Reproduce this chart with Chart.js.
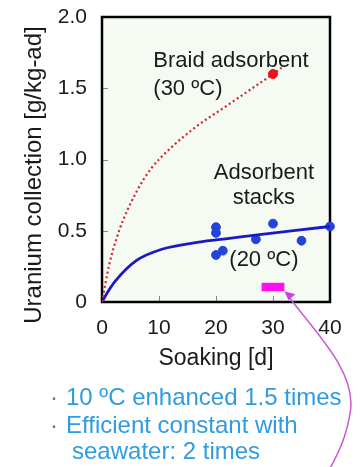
<!DOCTYPE html>
<html>
<head>
<meta charset="utf-8">
<script src="https://cdn.jsdelivr.net/npm/chart.js@4/dist/chart.umd.min.js"></script>
<style>
    html, body { margin: 0; padding: 0; background: #fff; }
    #wrap { width: 360px; height: 467px; }
</style>
</head>
<body>
<div id="wrap"><canvas id="uraniumChart" width="360" height="467"></canvas></div>
<script>
// Axis ticks
const xTicks = [0, 10, 20, 30, 40];
const yTicks = [0, 0.5, 1.0, 1.5, 2.0];

// Braid adsorbent (30 ºC) - dotted fit
const braidDays = [0, 1.2, 3, 6, 8.5, 11.5, 16.5, 22, 26, 30, 32];
const braidValues = [0, 0.25, 0.5, 0.77, 0.93, 1.06, 1.23, 1.38, 1.49, 1.6, 1.66];
const braidPointDay = [30];
const braidPointValue = [1.6];

// Adsorbent stacks (20 ºC) - fit and measurements
const stackFitDays = [0, 1, 2.4, 6, 10.5, 17, 22, 28, 34, 40];
const stackFitValues = [0, 0.07, 0.15, 0.29, 0.37, 0.42, 0.445, 0.475, 0.503, 0.53];
const stackDays = [20, 20, 20, 21.2, 27, 30, 35, 40];
const stackValues = [0.525, 0.485, 0.33, 0.36, 0.44, 0.55, 0.43, 0.53];

// Highlighted soaking range
const markDays = [28, 32];
const markValues = [0.105, 0.105];

const toXY = (xs, ys) => xs.map((d, i) => ({ x: d, y: ys[i] }));

const FONT = "'Liberation Sans', Arial, sans-serif";
Chart.defaults.font.family = FONT;
Chart.defaults.color = '#1a1a1a';

const decor = {
    id: 'decor',
    beforeDatasetsDraw(chart) {
        const { ctx, chartArea: a, scales: { x, y } } = chart;
        ctx.save();
        ctx.fillStyle = '#f5fbf3';
        ctx.fillRect(a.left, a.top, a.right - a.left, a.bottom - a.top);

        // small inner tick marks
        ctx.strokeStyle = '#888';
        ctx.lineWidth = 1;
        ctx.beginPath();
        yTicks.slice(1, -1).forEach(v => {
            const py = Math.round(y.getPixelForValue(v)) + 0.5;
            ctx.moveTo(a.left, py);
            ctx.lineTo(a.left + 6, py);
        });
        xTicks.slice(1, -1).forEach(v => {
            const px = Math.round(x.getPixelForValue(v)) + 0.5;
            ctx.moveTo(px, a.bottom);
            ctx.lineTo(px, a.bottom - 6);
        });
        ctx.stroke();

        ctx.strokeStyle = '#000';
        ctx.lineWidth = 2.5;
        ctx.strokeRect(a.left, a.top, a.right - a.left, a.bottom - a.top);
        ctx.restore();
    },
    afterDraw(chart) {
        const { ctx, scales: { x, y } } = chart;
        ctx.save();

        // labels inside the plot
        ctx.fillStyle = '#1a1a1a';
        ctx.font = '22px ' + FONT;
        ctx.textBaseline = 'alphabetic';
        ctx.textAlign = 'left';
        ctx.fillText('Braid adsorbent', x.getPixelForValue(9), y.getPixelForValue(1.65));
        ctx.fillText('(30 ºC)', x.getPixelForValue(9), y.getPixelForValue(1.455));
        ctx.textAlign = 'center';
        const cx = x.getPixelForValue(28.4);
        ctx.fillText('Adsorbent', cx, y.getPixelForValue(0.863));
        ctx.fillText('stacks', cx, y.getPixelForValue(0.688));
        ctx.fillText('(20 ºC)', cx, y.getPixelForValue(0.256));

        // y axis title
        ctx.save();
        ctx.translate(34, 175);
        ctx.rotate(-Math.PI / 2);
        ctx.font = '24px ' + FONT;
        ctx.textAlign = 'center';
        ctx.textBaseline = 'middle';
        ctx.fillText('Uranium collection [g/kg-ad]', 0, 0);
        ctx.restore();

        // notes below
        ctx.textAlign = 'left';
        ctx.font = '24px ' + FONT;
        ctx.fillStyle = '#6a7380';
        ctx.fillText('·', 50, 405);
        ctx.fillText('·', 50, 433);
        ctx.fillStyle = '#2f9be0';
        ctx.fillText('10 ºC enhanced 1.5 times', 66, 405);
        ctx.fillText('Efficient constant with', 66, 433);
        ctx.fillText('seawater: 2 times', 72, 459);

        // curved pointer from the highlighted range
        const tx = x.getPixelForValue(markDays[1]);
        const ty = y.getPixelForValue(0.075);
        ctx.strokeStyle = '#c75bd0';
        ctx.fillStyle = '#d040e0';
        ctx.lineWidth = 1.5;
        ctx.beginPath();
        ctx.moveTo(tx + 4, ty + 5);
        ctx.bezierCurveTo(tx + 30, ty + 40, tx + 72, ty + 80, tx + 66, ty + 120);
        ctx.bezierCurveTo(tx + 62, ty + 145, tx + 55, ty + 160, tx + 44, ty + 180);
        ctx.stroke();
        ctx.beginPath();
        ctx.moveTo(tx, ty);
        ctx.lineTo(tx + 11, ty + 3);
        ctx.lineTo(tx + 4, ty + 9);
        ctx.closePath();
        ctx.fill();
        ctx.restore();
    }
};

new Chart(document.getElementById('uraniumChart'), {
    type: 'scatter',
    data: {
        datasets: [
            {
                label: 'Braid fit',
                data: toXY(braidDays, braidValues),
                showLine: true,
                borderColor: '#d9232a',
                borderWidth: 2.2,
                borderDash: [2, 2.8],
                cubicInterpolationMode: 'monotone',
                pointRadius: 0
            },
            {
                label: 'Braid (30 ºC)',
                data: toXY(braidPointDay, braidPointValue),
                backgroundColor: '#ee1111',
                borderColor: '#ee1111',
                pointRadius: 4.5
            },
            {
                label: 'Stack fit',
                data: toXY(stackFitDays, stackFitValues),
                showLine: true,
                borderColor: '#1a1ac4',
                borderWidth: 2.8,
                cubicInterpolationMode: 'monotone',
                pointRadius: 0
            },
            {
                label: 'Stacks (20 ºC)',
                data: toXY(stackDays, stackValues),
                backgroundColor: '#2443d8',
                borderColor: '#2443d8',
                pointRadius: 4.4,
                clip: false
            },
            {
                label: 'Range',
                data: toXY(markDays, markValues),
                showLine: true,
                borderColor: '#ff10f0',
                borderWidth: 8.5,
                borderCapStyle: 'butt',
                pointRadius: 0
            }
        ]
    },
    options: {
        responsive: false,
        devicePixelRatio: 1,
        animation: false,
        layout: { padding: { top: 17, right: 30, left: 0, bottom: 0 } },
        plugins: {
            legend: { display: false },
            tooltip: { enabled: false }
        },
        scales: {
            x: {
                type: 'linear',
                min: 0,
                max: 40,
                afterBuildTicks: s => { s.ticks = xTicks.map(v => ({ value: v })); },
                afterFit: s => { s.height = 165; },
                grid: { display: false, drawTicks: false },
                border: { display: false },
                ticks: {
                    padding: 14,
                    color: '#1a1a1a',
                    font: { size: 21 }
                },
                title: {
                    display: true,
                    text: 'Soaking [d]',
                    color: '#1a1a1a',
                    font: { size: 23 },
                    padding: { top: 0, bottom: 95 }
                }
            },
            y: {
                type: 'linear',
                min: 0,
                max: 2,
                afterBuildTicks: s => { s.ticks = yTicks.map(v => ({ value: v })); },
                afterFit: s => { s.width = 102; },
                grid: { display: false, drawTicks: false },
                border: { display: false },
                ticks: {
                    padding: 15,
                    color: '#1a1a1a',
                    font: { size: 21, lineHeight: 0.1 },
                    callback: v => v === 0 ? '0' : v.toFixed(1)
                }
            }
        }
    },
    plugins: [decor]
});
</script>
</body>
</html>
